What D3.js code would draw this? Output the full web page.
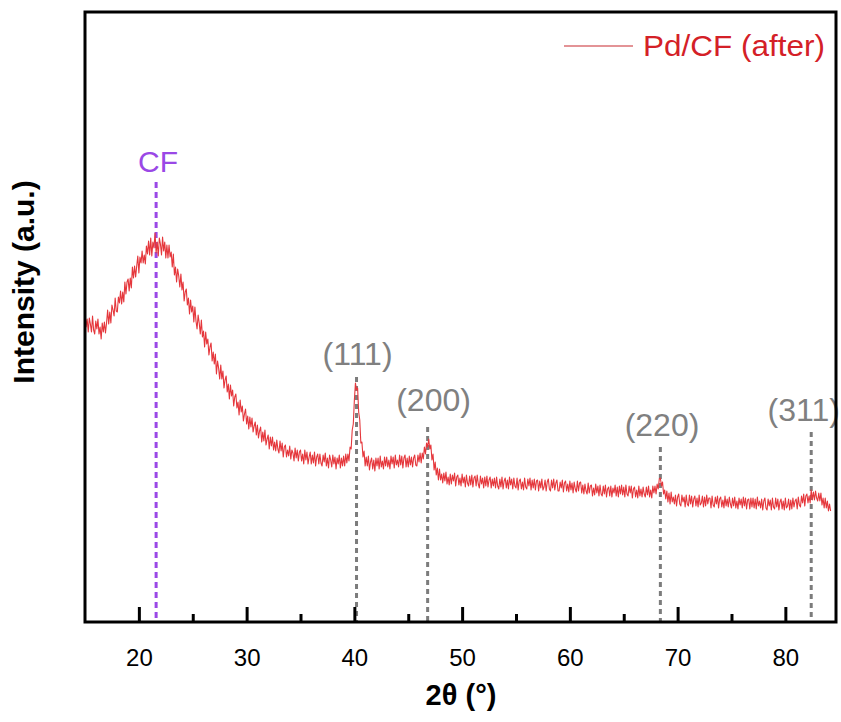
<!DOCTYPE html>
<html>
<head>
<meta charset="utf-8">
<script src="https://cdn.jsdelivr.net/npm/d3@7"></script>
<style>
  html, body { margin: 0; padding: 0; background: #fff; }
  svg { display: block; font-family: "Liberation Sans", Arial, sans-serif; }
</style>
</head>
<body>
<svg id="chart" width="841" height="722"></svg>
<script>
// ---- Data ----
const angleStart = 15.0;      // first 2θ sample (°)
const angleStep = 0.1;        // scan step (°)
const intensity = [
  310,295,303,290,304,298,290,306,292,288,301,293,303,288,295,283,299,290,300,289,
  299,312,298,310,299,317,312,306,324,311,310,325,319,331,318,330,320,340,328,340,
  343,331,344,334,355,344,356,345,356,366,349,365,359,371,359,367,358,376,368,381,
  367,384,366,380,374,389,369,380,366,384,378,367,385,371,380,364,377,364,377,365,
  370,355,368,347,355,340,353,346,335,348,332,340,321,330,333,317,324,308,322,310,
  316,300,315,301,293,307,299,288,302,285,291,275,290,278,283,267,275,279,261,270,
  258,268,248,261,254,243,257,243,251,234,242,246,230,238,223,237,226,232,216,225,
  228,214,220,207,222,210,216,201,208,213,198,206,193,205,195,204,190,196,200,187,
  197,184,191,195,180,190,181,192,177,183,187,173,185,176,185,172,180,171,182,173,
  169,181,171,179,165,175,177,165,172,166,176,163,172,169,161,174,164,172,161,170,
  172,161,168,158,172,162,170,158,165,170,158,167,159,170,156,165,168,158,168,159,
  156,167,160,169,156,164,154,167,162,155,167,158,165,153,164,158,167,154,164,156,
  166,156,168,159,168,161,175,173,192,198,222,239,232,234,210,202,179,180,165,171,
  156,165,156,166,152,160,164,153,162,151,164,156,164,153,166,155,161,153,165,156,
  165,155,162,153,166,158,165,154,167,157,162,155,167,157,166,154,164,167,155,164,
  155,166,157,165,155,164,167,157,156,167,160,169,159,169,163,175,168,179,175,183,
  173,177,162,168,152,160,147,154,142,153,142,148,139,149,141,150,138,145,137,148,
  138,147,141,149,136,145,147,137,144,136,148,139,145,135,147,139,136,146,137,147,
  135,144,146,136,147,138,134,146,138,144,134,145,136,146,135,142,145,134,143,136,
  144,134,145,136,133,143,135,145,133,141,144,134,142,133,145,137,143,133,144,136,
  134,144,132,141,143,133,140,132,144,135,133,143,136,144,132,142,134,143,132,141,
  142,131,141,134,143,132,135,142,131,140,143,133,131,142,134,143,132,139,142,131,
  131,140,134,142,130,139,141,131,138,130,141,132,139,129,140,133,130,141,131,139,
  140,129,137,128,138,131,128,139,129,136,137,126,134,127,138,129,136,126,137,128,
  126,136,128,137,125,133,135,126,136,125,134,129,137,126,135,125,136,128,137,127,
  135,125,137,128,126,136,129,136,124,133,135,125,132,124,136,126,133,125,135,128,
  125,135,127,136,125,132,124,136,129,136,128,138,133,143,144,136,140,128,132,123,
  131,120,129,118,130,120,125,118,127,116,125,128,118,116,127,120,125,115,127,118,
  116,127,118,126,115,123,126,116,124,115,127,117,119,126,115,125,116,127,118,124,
  124,114,126,117,115,125,118,126,114,123,125,115,122,114,126,116,123,115,125,118,
  114,124,116,125,114,121,113,124,117,123,114,125,116,124,113,122,123,113,124,115,
  124,114,123,113,125,116,121,114,123,112,121,124,114,112,123,116,122,112,124,115,
  113,124,115,123,112,120,123,113,121,112,124,114,116,123,112,122,113,124,115,121,
  123,113,125,117,115,126,119,128,116,126,128,119,126,119,132,122,130,122,131,124,
  121,129,121,129,117,124,114,124,114,121,111,118,111
];
const seriesName = "Pd/CF (after)";
const majorTicks = [20, 30, 40, 50, 60, 70, 80];
const minorTicks = [25, 35, 45, 55, 65, 75];
const peakLabels = ["(111)", "(200)", "(220)", "(311)"];
const peakAngles = [40.2, 46.8, 68.4, 82.4];
const peakLabelAngles = [40.3, 47.35, 68.55, 81.7];
const peakLabelLevels = [268, 222, 197, 212];
const peakLineTops = [245, 195, 175, 190];
const cfLabel = "CF";
const cfAngle = 21.6;
const cfLabelLevel = 461;
const cfLineTop = 440;

// ---- Layout ----
const m = { left: 85, right: 836, top: 12, bottom: 622 };
const svg = d3.select("#chart");

const x = d3.scaleLinear().domain([15, 84.7]).range([m.left, m.right]);
const y = d3.scaleLinear().domain([0, 610]).range([m.bottom, m.top]);

const pts = intensity.map((v, i) => ({ a: angleStart + i * angleStep, v }));

svg.append("defs").append("clipPath").attr("id", "clip")
  .append("rect").attr("x", m.left).attr("y", m.top)
  .attr("width", m.right - m.left).attr("height", m.bottom - m.top);

// reference lines
const gRef = svg.append("g");
gRef.append("line")
  .attr("x1", x(cfAngle)).attr("x2", x(cfAngle))
  .attr("y1", y(cfLineTop)).attr("y2", m.bottom)
  .attr("stroke", "#9a48e6").attr("stroke-width", 3)
  .attr("stroke-dasharray", "6,4");
peakAngles.forEach((a, i) => {
  gRef.append("line")
    .attr("x1", x(a)).attr("x2", x(a))
    .attr("y1", y(peakLineTops[i])).attr("y2", m.bottom)
    .attr("stroke", "#7c7c7c").attr("stroke-width", 3)
    .attr("stroke-dasharray", "5,4");
});

// data line
svg.append("path")
  .datum(pts)
  .attr("clip-path", "url(#clip)")
  .attr("fill", "none")
  .attr("stroke", "#e5373c")
  .attr("stroke-width", 1.1)
  .attr("stroke-linejoin", "round")
  .attr("d", d3.line().x(d => x(d.a)).y(d => y(d.v)));

// labels
svg.append("text")
  .attr("x", x(cfAngle) + 2).attr("y", y(cfLabelLevel) + 11)
  .attr("text-anchor", "middle")
  .attr("font-size", 30).attr("fill", "#9a48e6")
  .text(cfLabel);
peakLabels.forEach((t, i) => {
  svg.append("text")
    .attr("x", x(peakLabelAngles[i])).attr("y", y(peakLabelLevels[i]) + 11)
    .attr("text-anchor", "middle")
    .attr("font-size", 32).attr("fill", "#808080")
    .text(t);
});

// axes ticks
const gx = svg.append("g").attr("transform", `translate(0,${m.bottom})`)
  .call(d3.axisBottom(x).tickValues(majorTicks).tickSize(-15).tickPadding(27)
    .tickFormat(d3.format("d")));
gx.select(".domain").remove();
gx.selectAll(".tick line").attr("stroke", "#000").attr("stroke-width", 3);
gx.selectAll(".tick text").attr("font-size", 24).attr("fill", "#000")
  .attr("font-family", "'Liberation Sans', Arial, sans-serif");

const gm = svg.append("g").attr("transform", `translate(0,${m.bottom})`)
  .call(d3.axisBottom(x).tickValues(minorTicks).tickSize(-8).tickFormat(""));
gm.select(".domain").remove();
gm.selectAll(".tick line").attr("stroke", "#000").attr("stroke-width", 3);

// frame
svg.append("rect")
  .attr("x", m.left).attr("y", m.top)
  .attr("width", m.right - m.left).attr("height", m.bottom - m.top)
  .attr("fill", "none").attr("stroke", "#000").attr("stroke-width", 3);

// axis titles
svg.append("text")
  .attr("x", 461).attr("y", 705)
  .attr("text-anchor", "middle")
  .attr("font-size", 29).attr("font-weight", "bold").attr("fill", "#000")
  .text("2θ (°)");
svg.append("text")
  .attr("transform", "translate(34,282) rotate(-90)")
  .attr("text-anchor", "middle")
  .attr("font-size", 30).attr("font-weight", "bold").attr("fill", "#000")
  .text("Intensity (a.u.)");

// legend
svg.append("line")
  .attr("x1", 564).attr("x2", 633).attr("y1", 46).attr("y2", 46)
  .attr("stroke", "#c8282e").attr("stroke-width", 1.2);
svg.append("text")
  .attr("x", 643).attr("y", 56)
  .attr("font-size", 30).attr("fill", "#d42027")
  .attr("textLength", 182).attr("lengthAdjust", "spacingAndGlyphs")
  .text(seriesName);
</script>
</body>
</html>
